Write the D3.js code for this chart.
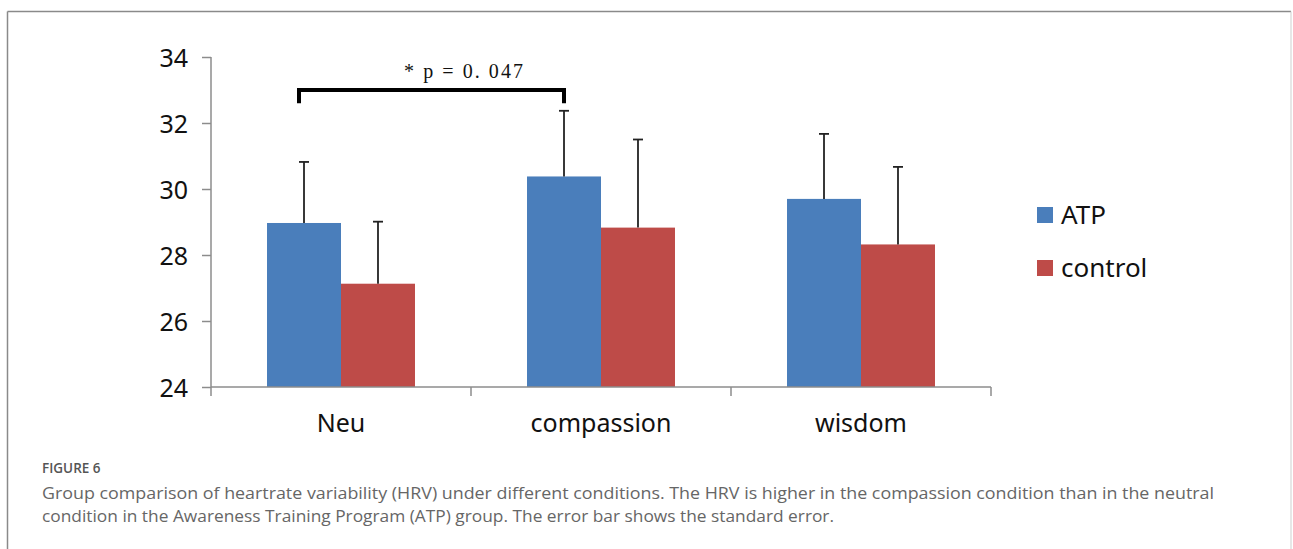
<!DOCTYPE html>
<html><head><meta charset="utf-8">
<script src="https://cdn.jsdelivr.net/npm/d3@7"></script>
<style>html,body{margin:0;padding:0;background:#fff;}svg{display:block;}</style>
</head><body>
<svg id="chart" width="1293" height="549"></svg>
<script>
const categories = ["Neu", "compassion", "wisdom"];
const seriesNames = ["ATP", "control"];
const atpMeans = [28.97, 30.38, 29.70];
const atpSE = [1.85, 1.99, 1.97];
const controlMeans = [27.13, 28.83, 28.32];
const controlSE = [1.88, 2.67, 2.35];
const yTicks = [24, 26, 28, 30, 32, 34];
const colors = ["#4a7ebb", "#be4b48"];
const sigLabel = "* p = 0. 047";
const captionTitle = "FIGURE 6";
const captionLines = [
  "Group comparison of heartrate variability (HRV) under different conditions. The HRV is higher in the compassion condition than in the neutral",
  "condition in the Awareness Training Program (ATP) group. The error bar shows the standard error."
];

const svg = d3.select("#chart");
// frame
svg.append("line").attr("x1",7.5).attr("x2",1291).attr("y1",11.5).attr("y2",11.5).attr("stroke","#8a8a8a").attr("stroke-width",1.5);
svg.append("line").attr("x1",7.5).attr("x2",7.5).attr("y1",11.5).attr("y2",549).attr("stroke","#8a8a8a").attr("stroke-width",1.5);
svg.append("line").attr("x1",1291).attr("x2",1291).attr("y1",11.5).attr("y2",549).attr("stroke","#cfcfcf").attr("stroke-width",1);

const y = d3.scaleLinear().domain([24, 34]).range([387, 57]);
const x = d3.scaleBand().domain(categories).range([211, 991]).paddingInner(0).paddingOuter(0);
const xs = d3.scaleBand().domain(seriesNames).range([0, x.bandwidth()]).paddingInner(0).paddingOuter(0.757);

const data = categories.map((c, i) => ({
  cat: c,
  vals: [
    {s: "ATP", m: atpMeans[i], se: atpSE[i], color: colors[0]},
    {s: "control", m: controlMeans[i], se: controlSE[i], color: colors[1]}
  ]
}));

// bars
const g = svg.append("g");
data.forEach(d => {
  d.vals.forEach(v => {
    const bx = x(d.cat) + xs(v.s);
    g.append("rect").attr("x", bx).attr("y", y(v.m)).attr("width", xs.bandwidth()).attr("height", y(24) - y(v.m)).attr("fill", v.color);
    const cx = bx + xs.bandwidth() / 2;
    g.append("line").attr("x1", cx).attr("x2", cx).attr("y1", y(v.m)).attr("y2", y(v.m + v.se)).attr("stroke", "#222").attr("stroke-width", 1.8);
    g.append("line").attr("x1", cx - 5).attr("x2", cx + 5).attr("y1", y(v.m + v.se)).attr("y2", y(v.m + v.se)).attr("stroke", "#222").attr("stroke-width", 1.8);
  });
});

// y axis
const yAxis = d3.axisLeft(y).tickValues(yTicks).tickSize(9).tickPadding(14).tickSizeOuter(0);
const ya = svg.append("g").attr("transform", "translate(211,0)").call(yAxis);
ya.select(".domain").attr("stroke", "#8c8c8c").attr("stroke-width", 1.5).attr("d", "M0,57V396");
ya.selectAll(".tick line").attr("stroke", "#8c8c8c").attr("stroke-width", 1.5);
ya.selectAll(".tick text").attr("font-family", "'Noto Sans', sans-serif").attr("font-size", 25).attr("fill", "#111").attr("dy", "0.36em");

// x axis
const xa = svg.append("g").attr("transform", "translate(0,387)");
xa.append("line").attr("x1", 211).attr("x2", 991).attr("y1", 0).attr("y2", 0).attr("stroke", "#8c8c8c").attr("stroke-width", 1.5);
const bounds = categories.map(c => x(c) + x.bandwidth());
xa.selectAll("line.tk").data(bounds).enter().append("line").attr("class", "tk")
  .attr("x1", d => d).attr("x2", d => d).attr("y1", 0).attr("y2", 9).attr("stroke", "#8c8c8c").attr("stroke-width", 1.5);
xa.selectAll("text").data(categories).enter().append("text")
  .attr("x", d => x(d) + x.bandwidth() / 2).attr("y", 45).attr("text-anchor", "middle")
  .attr("font-family", "'Noto Sans', sans-serif").attr("font-size", 25).attr("fill", "#111").text(d => d);

// significance bracket
const bx1 = x("Neu") + xs("ATP") + xs.bandwidth() / 2 - 5;
const bx2 = x("compassion") + xs("ATP") + xs.bandwidth() / 2;
const byTop = y(33.0), byBot = y(32.6);
svg.append("path").attr("d", `M${bx1},${byBot}V${byTop}H${bx2}V${byBot}`).attr("fill", "none").attr("stroke", "#000").attr("stroke-width", 4);
svg.append("text").attr("x", 404).attr("y", 78).attr("font-family", "'Liberation Serif', serif").attr("font-size", 20)
  .attr("textLength", 119).attr("lengthAdjust", "spacing").style("white-space", "pre").attr("fill", "#111").text(sigLabel);

// legend
const legY = [207, 260];
seriesNames.forEach((s, i) => {
  svg.append("rect").attr("x", 1037).attr("y", legY[i]).attr("width", 16).attr("height", 16).attr("fill", colors[i]);
  svg.append("text").attr("x", 1061).attr("y", legY[i] + 17).attr("font-family", "'Noto Sans', sans-serif").attr("font-size", 26).attr("fill", "#111").text(s);
});

// caption
svg.append("text").attr("x", 42).attr("y", 473).attr("font-family", "'Open Sans', sans-serif").attr("font-size", 13.5).attr("font-weight", 600).attr("fill", "#555").text(captionTitle);
svg.append("text").attr("x", 42).attr("y", 499).attr("font-family", "'Open Sans', sans-serif").attr("font-size", 17).attr("fill", "#666")
  .attr("textLength", 1172).attr("lengthAdjust", "spacingAndGlyphs").text(captionLines[0]);
svg.append("text").attr("x", 42).attr("y", 522).attr("font-family", "'Open Sans', sans-serif").attr("font-size", 17).attr("fill", "#666")
  .attr("textLength", 792).attr("lengthAdjust", "spacingAndGlyphs").text(captionLines[1]);
</script>
</body></html>
